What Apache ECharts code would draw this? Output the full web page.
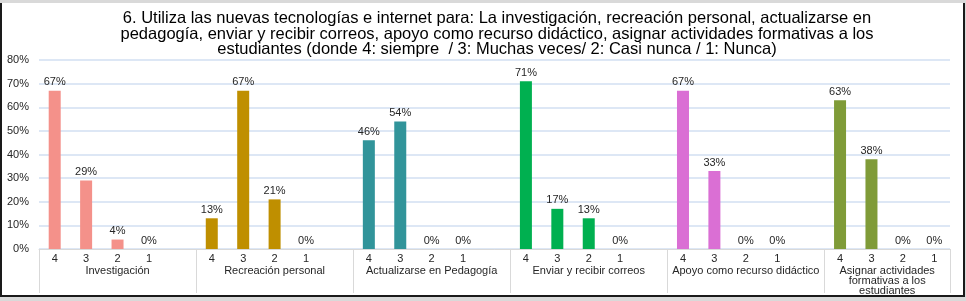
<!DOCTYPE html>
<html>
<head>
<meta charset="utf-8">
<script src="https://cdn.jsdelivr.net/npm/echarts@6/dist/echarts.min.js"></script>
<style>
    html, body { margin: 0; padding: 0; background: #d9d9d9; }
    #wrap { position: absolute; left: 0; top: 3px; width: 961px; height: 292px; background: #fff;
            border-left: 2px solid #1a1a1a; border-right: 2px solid #1a1a1a; border-bottom: 2px solid #1a1a1a; }
    #chart { position: absolute; left: 0; top: 0; width: 966px; height: 301px; }
</style>
</head>
<body>
<div id="wrap"></div>
<div id="chart"></div>
<script>
    // --- Data ---
    const titleLines = [
        '6. Utiliza las nuevas tecnologías e internet para: La investigación, recreación personal, actualizarse en',
        'pedagogía, enviar y recibir correos, apoyo como recurso didáctico, asignar actividades formativas a los',
        'estudiantes (donde 4: siempre  / 3: Muchas veces/ 2: Casi nunca / 1: Nunca)'
    ];
    const groups = [
        'Investigación',
        'Recreación personal',
        'Actualizarse en Pedagogía',
        'Enviar y recibir correos',
        'Apoyo como recurso didáctico',
        'Asignar actividades\nformativas a los\nestudiantes'
    ];
    const levels = ['4', '3', '2', '1'];
    const investigacion = [67, 29, 4, 0];
    const recreacion = [13, 67, 21, 0];
    const actualizarse = [46, 54, 0, 0];
    const enviar = [71, 17, 13, 0];
    const apoyo = [67, 33, 0, 0];
    const asignar = [63, 38, 0, 0];
    const groupColors = ['#F4918A', '#BF8F00', '#31949A', '#00B050', '#DA6FD4', '#7F9B38'];
    const yTicks = [0, 10, 20, 30, 40, 50, 60, 70, 80];

    // --- Build flat category list (blank slot between groups, like Excel) ---
    const allValues = [investigacion, recreacion, actualizarse, enviar, apoyo, asignar];
    const categories = [];
    const barData = [];
    const groupEdges = [0];
    const groupCenters = [];
    allValues.forEach((vals, gi) => {
        const start = categories.length;
        vals.forEach((v, i) => {
            categories.push(levels[i]);
            barData.push({ value: v, itemStyle: { color: groupColors[gi] } });
        });
        let end = categories.length;
        if (gi < allValues.length - 1) {
            categories.push('');
            barData.push({ value: null });
            end = categories.length;
        }
        groupEdges.push(end);
        groupCenters.push((start + end) / 2);
    });
    const total = categories.length;

    const font = 'Liberation Sans, Arial, sans-serif';
    const chart = echarts.init(document.getElementById('chart'));
    chart.setOption({
        animation: false,
        title: {
            text: titleLines.join('\n'),
            left: 492,
            textAlign: 'center',
            top: 6,
            padding: 5,
            textStyle: { fontFamily: font, fontSize: 16.5, fontWeight: 'normal', color: '#000', lineHeight: 15.5 }
        },
        grid: { left: 39, right: 16, top: 60, bottom: 52 },
        xAxis: [
            {
                type: 'category',
                data: categories,
                position: 'bottom',
                axisLine: { lineStyle: { color: '#d9d9d9', width: 1 } },
                axisTick: { show: false },
                axisLabel: { interval: 0, margin: 4, fontFamily: font, fontSize: 11, color: '#262626' }
            },
            {
                type: 'value',
                min: 0,
                max: total,
                position: 'bottom',
                axisLine: { show: false },
                splitLine: { show: false },
                axisTick: { show: true, customValues: groupEdges, length: 44, lineStyle: { color: '#d9d9d9' } },
                axisLabel: {
                    customValues: groupCenters,
                    margin: 17,
                    fontFamily: font,
                    fontSize: 11,
                    lineHeight: 10,
                    color: '#262626',
                    formatter: v => {
                        const idx = groupCenters.indexOf(v);
                        return idx >= 0 ? groups[idx] : '';
                    }
                }
            }
        ],
        yAxis: {
            type: 'value',
            min: 0,
            max: yTicks[yTicks.length - 1],
            interval: 10,
            axisLine: { show: false },
            axisTick: { show: false },
            axisLabel: { margin: 10, fontFamily: font, fontSize: 11, color: '#262626', formatter: '{value}%' },
            splitLine: { lineStyle: { color: '#dde7f5', width: 2 } }
        },
        series: [{
            type: 'bar',
            xAxisIndex: 0,
            data: barData,
            barWidth: 12,
            label: {
                show: true,
                position: 'top',
                distance: 3,
                fontFamily: font,
                fontSize: 11,
                color: '#262626',
                formatter: p => (p.value === null || p.value === undefined) ? '' : p.value + '%'
            }
        }]
    });
</script>
</body>
</html>
